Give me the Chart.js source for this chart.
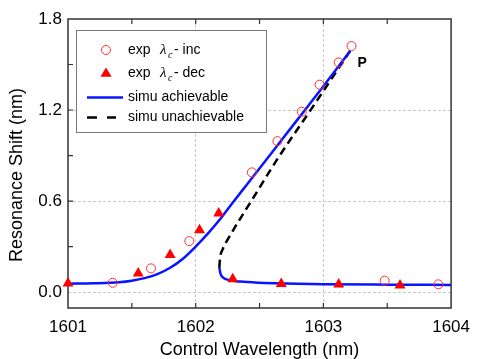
<!DOCTYPE html>
<html>
<head>
<meta charset="utf-8">
<script src="https://cdn.jsdelivr.net/npm/chart.js@4"></script>
<style>
body{margin:0;background:#fff;}
#wrap{width:479px;height:359px;}
</style>
</head>
<body>
<div id="wrap"><canvas id="grafico" width="479" height="359"></canvas></div>
<script>

// experimental points, lambda_c increasing
const incX = [1601.35, 1601.65, 1601.95, 1602.44, 1602.64, 1602.83, 1602.97, 1603.12, 1603.22, 1603.48, 1603.90];
const incY = [0.061, 0.156, 0.336, 0.789, 0.995, 1.189, 1.367, 1.514, 1.622, 0.075, 0.051];

// experimental points, lambda_c decreasing
const decX = [1601.00, 1601.55, 1601.80, 1602.03, 1602.18, 1602.29, 1602.67, 1603.12, 1603.60];
const decY = [0.057, 0.123, 0.246, 0.409, 0.519, 0.086, 0.055, 0.051, 0.044];

// simulation, achievable upper branch
const upX = [1601.0, 1601.2, 1601.4, 1601.5, 1601.6, 1601.7, 1601.8, 1601.9, 1602.0, 1602.1, 1602.2, 1602.3, 1602.4, 1602.6, 1602.8, 1603.0, 1603.21];
const upY = [0.055, 0.058, 0.065, 0.075, 0.092, 0.118, 0.16, 0.22, 0.3, 0.39, 0.49, 0.6, 0.708, 0.924, 1.14, 1.356, 1.59];

// simulation, achievable lower branch
const lowX = [1602.185, 1602.195, 1602.215, 1602.26, 1602.35, 1602.5, 1602.7, 1603.0, 1603.5, 1604.0];
const lowY = [0.16, 0.12, 0.095, 0.08, 0.069, 0.061, 0.056, 0.052, 0.049, 0.047];

// simulation, unachievable branch
const unX = [1602.185, 1602.19, 1602.21, 1602.25, 1602.45, 1602.65, 1602.9, 1603.21];
const unY = [0.16, 0.22, 0.28, 0.345, 0.62, 0.89, 1.2, 1.59];

const xTicks = [1601, 1602, 1603, 1604];
const yTicks = [0.0, 0.6, 1.2, 1.8];
const xMinor = [1601.5, 1602, 1602.5, 1603, 1603.5];
const yMinor = [0.3, 0.6, 0.9, 1.2, 1.5];

const pts = (xs, ys) => xs.map((x, i) => ({x: x, y: ys[i]}));

const FONT = "'Liberation Sans', Arial, sans-serif";

const marcoPlugin = {
  id: 'marco',
  beforeDatasetsDraw(chart) {
    const {ctx, chartArea: a, scales} = chart;
    ctx.save();
    ctx.strokeStyle = '#333';
    ctx.lineWidth = 1.5;
    ctx.strokeRect(a.left, a.top, a.right - a.left, a.bottom - a.top);
    ctx.lineWidth = 1.2;
    ctx.beginPath();
    xMinor.forEach(v => {
      const px = scales.x.getPixelForValue(v);
      ctx.moveTo(px, a.bottom); ctx.lineTo(px, a.bottom - 5);
      ctx.moveTo(px, a.top); ctx.lineTo(px, a.top + 5);
    });
    yMinor.forEach(v => {
      const py = scales.y.getPixelForValue(v);
      ctx.moveTo(a.left, py); ctx.lineTo(a.left + 5, py);
    });
    ctx.stroke();
    ctx.restore();
  },
  afterDraw(chart) {
    const {ctx, chartArea: a, scales} = chart;
    ctx.save();
    ctx.fillStyle = '#000';
    // axis titles
    ctx.font = '18px ' + FONT;
    ctx.textAlign = 'center';
    ctx.textBaseline = 'middle';
    ctx.fillText('Control Wavelength (nm)', (a.left + a.right) / 2, 350);
    ctx.save();
    ctx.translate(17, 175);
    ctx.rotate(-Math.PI / 2);
    ctx.fillText('Resonance Shift (nm)', 0, 0);
    ctx.restore();

    // label P at the end of the curve
    const px = scales.x.getPixelForValue(upX[upX.length - 1]);
    const py = scales.y.getPixelForValue(upY[upY.length - 1]);
    ctx.font = 'bold 14px ' + FONT;
    ctx.fillText('P', px + 12, py + 12);

    // legend
    const lx = 76, ly = 30, lw = 190, lh = 102;
    ctx.fillStyle = '#fff';
    ctx.fillRect(lx, ly, lw, lh);
    ctx.strokeStyle = '#777';
    ctx.lineWidth = 1;
    ctx.strokeRect(lx + 0.5, ly + 0.5, lw, lh);

    const mx = 106, tx = 128;
    const rows = [50, 73.5, 97.5, 117.5];
    // circle
    ctx.strokeStyle = '#ff3030';
    ctx.beginPath();
    ctx.arc(mx, rows[0], 4.5, 0, Math.PI * 2);
    ctx.stroke();
    // triangle
    ctx.fillStyle = '#ff0000';
    ctx.beginPath();
    ctx.moveTo(mx, rows[1] - 6);
    ctx.lineTo(mx + 5.6, rows[1] + 3.2);
    ctx.lineTo(mx - 5.6, rows[1] + 3.2);
    ctx.closePath();
    ctx.fill();
    // blue line
    ctx.strokeStyle = '#0a14ff';
    ctx.lineWidth = 2.5;
    ctx.beginPath();
    ctx.moveTo(87, rows[2]); ctx.lineTo(123, rows[2]);
    ctx.stroke();
    // dashed line
    ctx.strokeStyle = '#000';
    ctx.beginPath();
    ctx.moveTo(87, rows[3]); ctx.lineTo(97, rows[3]);
    ctx.moveTo(107, rows[3]); ctx.lineTo(116, rows[3]);
    ctx.stroke();

    ctx.fillStyle = '#000';
    ctx.textAlign = 'left';
    ctx.textBaseline = 'middle';
    const expLine = (y, tail) => {
      ctx.font = '14px ' + FONT;
      ctx.fillText('exp', tx, y);
      ctx.font = "italic 15px 'Liberation Serif', serif";
      ctx.fillText('\u03bb', 160, y);
      ctx.font = "italic 10px 'Liberation Serif', serif";
      ctx.fillText('c', 168, y + 5);
      ctx.font = '14px ' + FONT;
      ctx.fillText(tail, 174, y);
    };
    expLine(rows[0], '- inc');
    expLine(rows[1], '- dec');
    ctx.font = '14px ' + FONT;
    ctx.fillText('simu achievable', tx, rows[2]);
    ctx.fillText('simu unachievable', tx, rows[3]);
    ctx.restore();
  }
};

const gridColor = ctx => {
  const v = ctx.tick && ctx.tick.value;
  return (v === 1601 || v === 1604 || v === 1.8) ? 'rgba(0,0,0,0)' : '#c8c8c8';
};

new Chart(document.getElementById('grafico'), {
  type: 'scatter',
  data: {
    datasets: [
      {
        label: 'exp inc',
        data: pts(incX, incY),
        pointStyle: 'circle',
        pointRadius: 4.5,
        pointBorderWidth: 1,
        pointBorderColor: '#ff3030',
        pointBackgroundColor: 'rgba(0,0,0,0)',
        clip: false
      },
      {
        label: 'exp dec',
        data: pts(decX, decY),
        pointStyle: 'triangle',
        pointRadius: 6.3,
        pointBorderWidth: 0,
        pointBorderColor: '#ff0000',
        pointBackgroundColor: '#ff0000',
        clip: false
      },
      {
        label: 'simu achievable',
        data: pts(upX, upY),
        showLine: true,
        pointRadius: 0,
        borderColor: '#0a14ff',
        borderWidth: 2.5,
        cubicInterpolationMode: 'monotone'
      },
      {
        label: 'simu achievable low',
        data: pts(lowX, lowY),
        showLine: true,
        pointRadius: 0,
        borderColor: '#0a14ff',
        borderWidth: 2.5,
        cubicInterpolationMode: 'monotone'
      },
      {
        label: 'simu unachievable',
        data: pts(unX, unY),
        showLine: true,
        pointRadius: 0,
        borderColor: '#000',
        borderWidth: 2.5,
        borderDash: [8, 5],
        cubicInterpolationMode: 'monotone'
      }
    ]
  },
  options: {
    responsive: false,
    animation: false,
    layout: {padding: {top: 19, right: 20, left: 0, bottom: 0}},
    plugins: {legend: {display: false}, tooltip: {enabled: false}},
    scales: {
      x: {
        type: 'linear',
        min: 1601, max: 1604,
        afterBuildTicks: s => { s.ticks = xTicks.map(v => ({value: v})); },
        afterFit: s => { s.height = 51; },
        grid: {color: gridColor, drawTicks: false, lineWidth: 1},
        border: {display: false, dash: [3, 2]},
        ticks: {
          padding: 9,
          color: '#000',
          font: {family: FONT, size: 17},
          callback: v => String(v)
        }
      },
      y: {
        min: -0.105, max: 1.8,
        afterBuildTicks: s => { s.ticks = yTicks.map(v => ({value: v})); },
        afterFit: s => { s.width = 68; },
        grid: {color: gridColor, drawTicks: false, lineWidth: 1},
        border: {display: false, dash: [3, 2]},
        ticks: {
          padding: 6,
          color: '#000',
          font: {family: FONT, size: 17},
          callback: v => v.toFixed(1)
        }
      }
    }
  },
  plugins: [marcoPlugin]
});
</script>
</body>
</html>
